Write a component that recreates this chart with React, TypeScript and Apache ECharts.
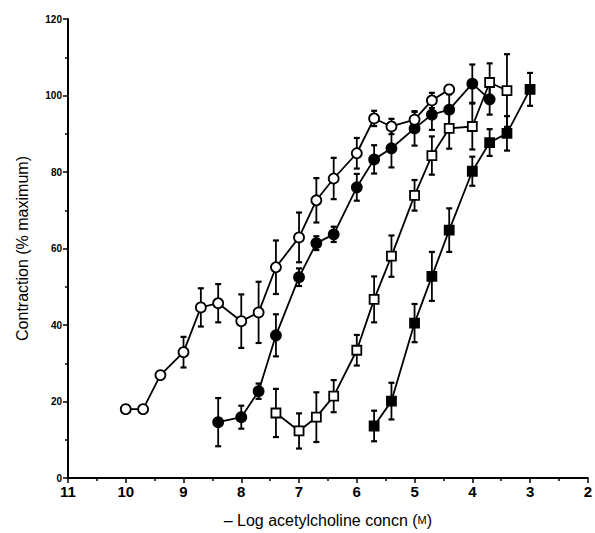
import React, { useEffect, useRef } from "react";
import * as echarts from "echarts";

// x values (−log M) and responses (% maximum) with error half-widths
const xOpenCircle = [10, 9.7, 9.4, 9.0, 8.7, 8.4, 8.0, 7.7, 7.4, 7.0, 6.7, 6.4, 6.0, 5.7, 5.4, 5.0, 4.7, 4.4];
const yOpenCircle = [18.0, 18.0, 26.9, 32.9, 44.6, 45.7, 41.0, 43.3, 55.1, 62.9, 72.6, 78.3, 84.9, 94.0, 91.9, 93.7, 98.7, 101.6];
const eOpenCircle = [0, 0, 0, 4, 5, 5, 7, 8, 7, 6.5, 5.8, 5.4, 4, 2, 2, 2, 2, 1];

const xFilledCircle = [8.4, 8.0, 7.7, 7.4, 7.0, 6.7, 6.4, 6.0, 5.7, 5.4, 5.0, 4.7, 4.4, 4.0, 3.7];
const yFilledCircle = [14.6, 15.9, 22.7, 37.3, 52.5, 61.4, 63.7, 76.0, 83.3, 86.2, 91.4, 95.0, 96.3, 103.1, 99.0];
const eFilledCircle = [6.3, 3, 2, 5.5, 2.3, 1.8, 2, 3.5, 3.7, 5, 4.5, 4, 4, 5, 4];

const xOpenSquare = [7.4, 7.0, 6.7, 6.4, 6.0, 5.7, 5.4, 5.0, 4.7, 4.4, 4.0, 3.7, 3.4];
const yOpenSquare = [17.0, 12.3, 15.9, 21.4, 33.4, 46.7, 58.0, 73.9, 84.3, 91.4, 91.9, 103.4, 101.3];
const eOpenSquare = [6.3, 4.6, 6.5, 4.2, 4, 6, 5.4, 4, 5, 5.3, 6, 5, 9.5];

const xFilledSquare = [5.7, 5.4, 5.0, 4.7, 4.4, 4.0, 3.7, 3.4, 3.0];
const yFilledSquare = [13.6, 20.1, 40.5, 52.7, 64.8, 80.2, 87.7, 90.1, 101.6];
const eFilledSquare = [4, 4.8, 5, 6.4, 5.7, 3.8, 3.5, 4.5, 4.3];

const xTickMin = 2;
const xTickMax = 11;
const yTickMin = 0;
const yTickMax = 120;

const FONT = "Liberation Sans, Arial, Helvetica, sans-serif";

function pairs(xs: number[], ys: number[]) {
  return xs.map((x, i) => [x, ys[i]]);
}
function errs(xs: number[], ys: number[], es: number[]) {
  return xs
    .map((x, i) => [x, ys[i] - es[i], ys[i] + es[i], es[i]])
    .filter((d) => d[3] > 0);
}

function errorSeries(data: number[][]) {
  return {
    type: "custom",
    z: 1,
    silent: true,
    data,
    encode: { x: 0, y: [1, 2] },
    renderItem: (params: any, api: any) => {
      const x = api.value(0);
      const lo = api.value(1);
      const hi = api.value(2);
      const p1 = api.coord([x, hi]);
      const p2 = api.coord([x, lo]);
      const w = 3;
      const st = { stroke: "#000", lineWidth: 1.8 };
      return {
        type: "group",
        children: [
          { type: "line", shape: { x1: p1[0], y1: p1[1], x2: p2[0], y2: p2[1] }, style: st },
          { type: "line", shape: { x1: p1[0] - w, y1: p1[1], x2: p1[0] + w, y2: p1[1] }, style: { stroke: "#000", lineWidth: 2.2 } },
          { type: "line", shape: { x1: p2[0] - w, y1: p2[1], x2: p2[0] + w, y2: p2[1] }, style: { stroke: "#000", lineWidth: 2.2 } },
        ],
      };
    },
  };
}

function lineSeries(data: number[][], symbol: string, filled: boolean) {
  return {
    type: "line",
    z: 3,
    data,
    symbol,
    symbolSize: symbol === "rect" ? 9 : 10,
    showAllSymbol: true,
    lineStyle: { color: "#000", width: 1.8 },
    itemStyle: { color: filled ? "#000" : "#fff", borderColor: "#000", borderWidth: 1.8 },
    emphasis: { disabled: true },
  };
}

export default function App() {
  const ref = useRef<HTMLDivElement>(null);
  useEffect(() => {
    if (!ref.current) return;
    const chart = echarts.init(ref.current, null, { renderer: "svg" });
    chart.setOption({
      animation: false,
      backgroundColor: "#fff",
      grid: { left: 68, right: 3, top: 19, bottom: 54 },
      xAxis: {
        type: "value",
        inverse: true,
        min: xTickMin,
        max: xTickMax,
        interval: 1,
        name: "– Log acetylcholine concn ({s|M})",
        nameLocation: "middle",
        nameGap: 34,
        nameTextStyle: {
          fontFamily: FONT,
          fontSize: 16,
          color: "#000",
          rich: { s: { fontFamily: FONT, fontSize: 11, color: "#000" } },
        },
        axisLine: { show: true, onZero: false, lineStyle: { color: "#000", width: 2 } },
        axisTick: { show: true, inside: false, length: 5, lineStyle: { color: "#000", width: 1.5 } },
        minorTick: { show: true, splitNumber: 2, length: 3, lineStyle: { color: "#000", width: 1.5 } },
        splitLine: { show: false },
        axisLabel: { fontFamily: FONT, fontSize: 15, fontWeight: "bold", color: "#000", margin: 6 },
      },
      yAxis: {
        type: "value",
        min: yTickMin,
        max: yTickMax,
        interval: 20,
        name: "Contraction (% maximum)",
        nameLocation: "middle",
        nameGap: 38,
        nameTextStyle: { fontFamily: FONT, fontSize: 16, color: "#000" },
        axisLine: { show: true, lineStyle: { color: "#000", width: 2 } },
        axisTick: { show: true, inside: false, length: 5, lineStyle: { color: "#000", width: 1.5 } },
        minorTick: { show: true, splitNumber: 2, length: 3, lineStyle: { color: "#000", width: 1.5 } },
        splitLine: { show: false },
        axisLabel: { fontFamily: FONT, fontSize: 10, fontWeight: "bold", color: "#000", margin: 6 },
      },
      series: [
        errorSeries(errs(xOpenCircle, yOpenCircle, eOpenCircle)),
        errorSeries(errs(xFilledCircle, yFilledCircle, eFilledCircle)),
        errorSeries(errs(xOpenSquare, yOpenSquare, eOpenSquare)),
        errorSeries(errs(xFilledSquare, yFilledSquare, eFilledSquare)),
        lineSeries(pairs(xFilledCircle, yFilledCircle), "circle", true),
        lineSeries(pairs(xFilledSquare, yFilledSquare), "rect", true),
        lineSeries(pairs(xOpenSquare, yOpenSquare), "rect", false),
        lineSeries(pairs(xOpenCircle, yOpenCircle), "circle", false),
      ],
    });
    return () => chart.dispose();
  }, []);
  return (
    <div
      ref={ref}
      style={{ position: "fixed", left: 0, top: 0, width: 595, height: 533, background: "#fff" }}
    />
  );
}
